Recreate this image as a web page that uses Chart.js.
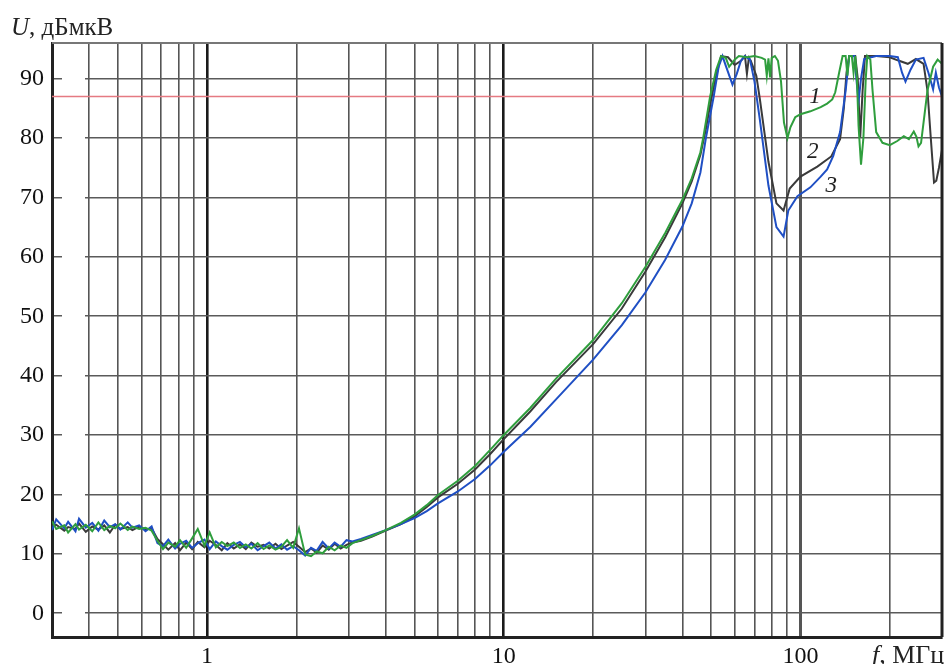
<!DOCTYPE html>
<html lang="ru">
<head>
<meta charset="UTF-8">
<title>U(f)</title>
<script src="https://cdn.jsdelivr.net/npm/chart.js"></script>
<style>
  body { margin: 0; background: #ffffff; }
  canvas { display: block; }
</style>
</head>
<body>
<canvas id="spec" width="951" height="664"></canvas>
<script>
// --- data ---
const xGrid = [0.4, 0.5, 0.6, 0.7, 0.8, 0.9, 1, 2, 3, 4, 5, 6, 7, 8, 9, 10,
               20, 30, 40, 50, 60, 70, 80, 90, 100, 200];
const xLabels = [1, 10, 100];
const yTicks = [0, 10, 20, 30, 40, 50, 60, 70, 80, 90];
const limitLevel = 87;

// noisy low-frequency part, shared frequency grid (MHz)
const lowF = [0.30, 0.31, 0.33, 0.34, 0.36, 0.37, 0.39, 0.41, 0.43, 0.45, 0.47, 0.49, 0.51,
              0.54, 0.56, 0.59, 0.62, 0.65, 0.68, 0.71, 0.74, 0.78, 0.81, 0.85, 0.89, 0.93,
              0.98, 1.02, 1.07, 1.12, 1.17, 1.23, 1.29, 1.35, 1.41, 1.48, 1.55, 1.62, 1.70,
              1.78, 1.86, 1.95, 2.04, 2.14, 2.24, 2.34, 2.45, 2.57, 2.69, 2.82, 2.95, 3.09];
const greenLow = [15.5, 14.2, 14.8, 13.6, 15.0, 14.1, 14.9, 13.8, 15.3, 14.0, 14.7, 14.3, 15.1,
                  14.0, 14.6, 14.2, 14.4, 13.9, 12.2, 10.8, 11.9, 11.2, 12.3, 11.0, 12.6, 14.2,
                  11.4, 13.6, 11.1, 12.0, 11.3, 11.9, 11.0, 11.6, 10.9, 11.8, 10.8, 11.4, 10.7,
                  11.2, 12.3, 11.0, 14.3, 9.9, 9.6, 10.4, 10.1, 11.2, 10.6, 11.4, 11.0, 11.8];
const blackLow = [14.8, 14.9, 13.9, 14.5, 14.2, 15.1, 13.7, 14.6, 14.1, 14.8, 13.6, 14.9, 14.2,
                  14.5, 14.0, 14.6, 14.1, 14.3, 12.5, 11.6, 10.7, 11.8, 10.6, 11.9, 10.8, 12.0,
                  11.1, 12.2, 11.5, 10.6, 11.8, 10.9, 11.6, 10.8, 11.9, 11.2, 11.5, 10.9, 11.7,
                  10.8, 11.4, 12.0, 11.2, 10.3, 10.9, 10.2, 11.4, 10.7, 11.7, 10.9, 11.5, 11.9];
const blueLow = [14.0, 15.8, 14.3, 15.4, 13.8, 15.9, 14.4, 15.2, 13.9, 15.6, 14.5, 15.0, 14.1,
                 15.3, 14.4, 14.8, 13.8, 14.6, 11.8, 11.3, 12.4, 10.9, 11.7, 12.2, 11.0, 11.8,
                 12.4, 10.8, 12.1, 11.3, 10.7, 11.5, 12.0, 11.1, 11.7, 10.6, 11.3, 11.9, 10.9,
                 11.6, 10.7, 11.3, 10.6, 9.7, 11.0, 10.5, 12.0, 10.9, 11.9, 11.2, 12.3, 12.1];

// curve 1 (green)
const greenF = [3.3, 3.6, 4, 4.5, 5, 5.5, 6, 7, 8, 9, 10, 12.3, 15, 20, 25, 30, 35, 40, 43, 46,
                47, 49.6, 52, 54, 56, 57.5, 60, 62, 66, 70, 74, 76, 77, 78, 79, 80, 82, 84,
                86, 88, 90.4, 92.5, 96, 100, 108, 117, 123, 128, 131, 135, 138.7, 142, 144,
                146, 149, 151, 153, 155, 157, 160, 163, 166, 168, 172, 175, 180, 189, 200,
                212, 223, 232, 241, 246, 250, 255, 262, 268, 280, 290, 300];
const greenU = [12.3, 13.0, 14.0, 15.2, 16.6, 18.2, 19.9, 22.3, 24.8, 27.5, 30.0, 34.6, 39.5,
                46.0, 52.2, 58.3, 64.0, 69.6, 73.2, 77.6, 80.0, 87.0, 91.5, 93.8, 93.5, 92.0,
                93.2, 93.8, 93.6, 93.8, 93.5, 93.2, 90.5, 93.4, 90.2, 93.5, 93.8, 93.0, 89.5,
                82.6, 80.0, 81.8, 83.5, 84.0, 84.5, 85.2, 85.8, 86.5, 87.7, 91.0, 93.8, 93.8,
                90.5, 93.8, 93.8, 91.0, 93.8, 90.0, 82.0, 75.5, 80.0, 90.0, 93.8, 93.2, 88.0,
                81.0, 79.2, 78.8, 79.5, 80.3, 79.8, 81.1, 80.2, 78.6, 79.2, 84.0, 88.0, 92.0,
                93.2, 92.5];

// curve 2 (black)
const blackF = [3.3, 3.6, 4, 4.5, 5, 5.5, 6, 7, 8, 9, 10, 12.3, 15, 20, 25, 30, 35, 40, 43, 46,
                48, 50, 52, 54, 57, 60, 63, 65, 66, 67, 68, 71, 73, 78, 83, 87.7, 92, 100, 114,
                127, 136, 140, 143, 146, 153, 156, 159, 162, 165, 180, 200, 215, 230, 245, 260,
                268, 275, 282, 287, 293, 300];
const blackU = [12.2, 12.9, 13.9, 15.0, 16.3, 17.9, 19.5, 21.8, 24.2, 26.8, 29.3, 34.0, 38.9,
                45.3, 51.3, 57.5, 63.3, 69.0, 72.7, 77.2, 81.5, 86.5, 90.5, 93.8, 93.6, 92.3,
                93.0, 93.8, 90.8, 93.5, 93.0, 90.5, 86.5, 76.0, 69.0, 67.8, 71.5, 73.5, 75.2,
                76.9, 79.8, 85.0, 91.0, 93.8, 93.8, 90.0, 80.1, 88.0, 93.8, 93.8, 93.6, 93.0,
                92.5, 93.3, 92.5, 88.0, 80.0, 72.5, 72.8, 75.0, 78.0];

// curve 3 (blue)
const blueF = [3.3, 3.6, 4, 4.5, 5, 5.5, 6, 7, 8, 9, 10, 12.3, 15, 20, 25, 30, 35, 40, 43, 46,
               48, 51, 53, 54.6, 56, 59, 61, 63, 65, 67.6, 70, 73, 78, 83, 87.7, 91, 97.7, 108,
               117, 123, 129, 136, 142, 146, 152, 155, 157, 160, 164, 180, 200, 213, 220, 226,
               235, 245, 260, 270, 280, 286, 293, 300];
const blueU = [12.5, 13.2, 14.0, 15.0, 16.0, 17.2, 18.5, 20.5, 22.6, 24.9, 27.2, 31.4, 36.0,
               42.7, 48.5, 54.0, 59.5, 65.1, 69.0, 74.2, 80.0, 87.0, 92.0, 93.8, 92.2, 89.0,
               90.8, 93.0, 93.8, 93.2, 89.5, 83.0, 72.0, 65.0, 63.4, 67.8, 70.2, 71.7, 73.5,
               74.7, 77.0, 81.0, 88.0, 93.8, 93.8, 89.0, 86.2, 90.0, 93.3, 93.8, 93.8, 93.6,
               91.0, 89.5, 91.5, 93.2, 93.5, 91.0, 88.2, 91.0, 88.5, 87.0];

// curve numbers, placed in data units (MHz, dBµV)
const curveNames = ['1', '2', '3'];
const curveNameF = [112, 110, 127];
const curveNameU = [87.0, 77.6, 72.0];

function pts(fs, us) {
  return fs.map((f, i) => ({ x: f, y: us[i] }));
}

const SERIF = '"Liberation Serif", "DejaVu Serif", serif';

// horizontal grid lines start a bit to the right of the short inner ticks
const tickGap = {
  id: 'tickGap',
  beforeDatasetsDraw(chart) {
    const a = chart.chartArea, c = chart.ctx;
    c.save();
    c.fillStyle = '#ffffff';
    c.fillRect(a.left + 10, a.top + 1.5, 23, a.bottom - a.top - 3);
    c.restore();
  }
};

const frameAndText = {
  id: 'frameAndText',
  afterDatasetsDraw(chart) {
    const a = chart.chartArea, c = chart.ctx;
    const sx = chart.scales.x, sy = chart.scales.y;
    c.save();
    // top and right frame
    c.strokeStyle = '#777777';
    c.lineWidth = 2;
    c.beginPath();
    c.moveTo(a.left, a.top);
    c.lineTo(a.right, a.top);
    c.stroke();
    c.strokeStyle = '#222222';
    c.lineWidth = 3;
    c.beginPath();
    c.moveTo(a.right, a.top);
    c.lineTo(a.right, a.bottom);
    c.stroke();

    // curve numbers
    c.fillStyle = '#222222';
    c.font = 'italic 23px ' + SERIF;
    c.textAlign = 'center';
    c.textBaseline = 'middle';
    curveNames.forEach((n, i) => {
      c.fillText(n, sx.getPixelForValue(curveNameF[i]), sy.getPixelForValue(curveNameU[i]));
    });

    // axis titles
    c.textAlign = 'left';
    c.textBaseline = 'alphabetic';
    c.font = 'italic 25px ' + SERIF;
    c.fillText('U', a.left - 41, a.top - 8);
    let w = c.measureText('U').width;
    c.font = '25px ' + SERIF;
    c.fillText(', дБмкВ', a.left - 41 + w, a.top - 8);

    c.font = 'italic 26px ' + SERIF;
    c.fillText('f', a.right - 70, 663);
    w = c.measureText('f').width;
    c.font = '26px ' + SERIF;
    c.fillText(', МГц', a.right - 70 + w, 663);
    c.restore();
  }
};

const ctx = document.getElementById('spec').getContext('2d');
new Chart(ctx, {
  type: 'line',
  data: {
    datasets: [
      { label: '1', data: pts(lowF, greenLow).concat(pts(greenF, greenU)),
        borderColor: '#2f9e3d', borderWidth: 2 },
      { label: '3', data: pts(lowF, blueLow).concat(pts(blueF, blueU)),
        borderColor: '#1f4fc4', borderWidth: 2 },
      { label: '2', data: pts(lowF, blackLow).concat(pts(blackF, blackU)),
        borderColor: '#3a3a3a', borderWidth: 2 },
      { label: 'limit', data: [{ x: 0.3, y: limitLevel }, { x: 300, y: limitLevel }],
        borderColor: '#e57a82', borderWidth: 1.6 }
    ]
  },
  options: {
    responsive: false,
    animation: false,
    devicePixelRatio: 1,
    layout: { padding: { top: 43, right: 9, left: 0, bottom: 0 } },
    elements: { point: { radius: 0 }, line: { tension: 0 } },
    plugins: { legend: { display: false }, tooltip: { enabled: false } },
    scales: {
      x: {
        type: 'logarithmic',
        min: 0.3,
        max: 300,
        afterBuildTicks: s => { s.ticks = xGrid.map(v => ({ value: v })); },
        afterFit: s => { s.height = 27; },
        ticks: {
          autoSkip: false,
          maxRotation: 0,
          padding: 5,
          color: '#111111',
          font: { family: SERIF, size: 24 },
          callback: v => xLabels.includes(v) ? String(v) : ''
        },
        grid: {
          drawTicks: false,
          color: c => (c.tick && (c.tick.value === 1 || c.tick.value === 10)) ? '#1a1a1a' : '#555555',
          lineWidth: c => {
            const v = c.tick ? c.tick.value : 0;
            if (v === 1 || v === 10) return 2.6;
            if (v === 100) return 3;
            return 1.6;
          }
        },
        border: { display: true, color: '#222222', width: 3 }
      },
      y: {
        min: -4,
        max: 96,
        afterBuildTicks: s => { s.ticks = yTicks.map(v => ({ value: v })); },
        afterFit: s => { s.width = 52; },
        ticks: {
          padding: 8,
          color: '#111111',
          font: { family: SERIF, size: 24 }
        },
        grid: { drawTicks: false, color: '#5a5a5a', lineWidth: 1.6 },
        border: { display: true, color: '#222222', width: 3 }
      }
    }
  },
  plugins: [tickGap, frameAndText]
});
</script>
</body>
</html>
